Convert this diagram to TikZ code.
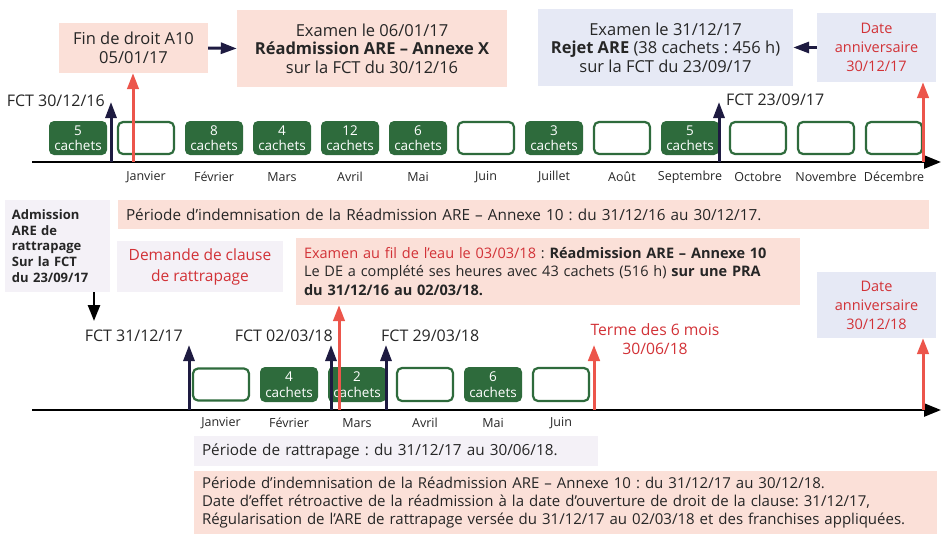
\documentclass[tikz,border=0pt]{standalone}
\usepackage{fontspec}
\setmainfont{Open Sans}
\frenchspacing
\usetikzlibrary{arrows.meta}
\definecolor{grn}{HTML}{2E6B3C}
\definecolor{pinkbg}{HTML}{FBE0D8}
\definecolor{lavbg}{HTML}{E6E9F5}
\definecolor{greybg}{HTML}{F4F1F7}
\definecolor{redtxt}{HTML}{D23237}
\definecolor{redarr}{HTML}{EC554B}
\definecolor{navy}{HTML}{1E1B41}
\definecolor{txt}{HTML}{262626}
\newcommand\fsz[2]{\fontsize{#1pt}{#2pt}\selectfont}
\tikzset{
  full/.style={fill=grn, rounded corners=5pt, minimum width=58pt, minimum height=34pt,
    text=white, font=\fsz{13.5}{15.5}, align=center, inner sep=0pt},
  empt/.style={draw=grn, line width=2.2pt, fill=white, rounded corners=5pt,
    minimum width=56pt, minimum height=32pt, inner sep=0pt},
  month/.style={font=\fsz{12.5}{15}, text=txt, inner sep=0pt},
  fct/.style={font=\fsz{16}{18}, text=txt, inner sep=0pt},
  pinkbox/.style={fill=pinkbg, inner sep=0pt, font=\fsz{16.5}{18.5}, text=txt, align=center},
  lavbox/.style={fill=lavbg, inner sep=0pt, font=\fsz{16.5}{18.5}, text=txt, align=center},
  greybox/.style={fill=greybg, inner sep=0pt, font=\fsz{15}{18.5}, text=txt, align=center},
  axis/.style={line width=2.6pt, -{Triangle[length=17pt,width=13pt]}},
  navarr/.style={draw=navy, line width=3pt, -{Triangle[length=16pt,width=11pt]}},
  redarrow/.style={draw=redarr, line width=3pt, -{Triangle[length=16pt,width=11.5pt]}},
  blkarr/.style={draw=black, line width=2.5pt, -{Triangle[length=16pt,width=12pt]}},
}
\begin{document}
\begin{tikzpicture}[x=1pt,y=-1pt]
\useasboundingbox (0,0) rectangle (942,533);
% ---------------- top boxes
\node[pinkbox, minimum width=149pt, minimum height=50pt] (fin) at (133.5,48) {Fin de droit A10\\05/01/17};
\node[pinkbox, minimum width=270pt, minimum height=77pt] (ex1) at (372,48.5)
  {Examen le 06/01/17\\\textbf{Réadmission ARE – Annexe X}\\sur la FCT du 30/12/16};
\node[lavbox, minimum width=255pt, minimum height=77pt] (ex2) at (665.5,47.5)
  {Examen le 31/12/17\\\textbf{Rejet ARE} (38 cachets : 456 h)\\sur la FCT du 23/09/17};
\node[lavbox, minimum width=119pt, minimum height=69pt, text=redtxt, font=\fsz{14.5}{19}] (da1) at (876.5,47.5)
  {Date\\anniversaire\\30/12/17};
\draw[navarr] (fin.east) -- (ex1.west);
\draw[navarr] (da1.west) -- (ex2.east);
% ---------------- first timeline
\coordinate (a1s) at (32,162);
\coordinate (a1e) at (941,162);
\node[full] (t0) at (78,138) {5\\cachets};
\node[empt] (t1) at (146,138) {};
\node[full] (t2) at (214,138) {8\\cachets};
\node[full] (t3) at (282,138) {4\\cachets};
\node[full] (t4) at (350,138) {12\\cachets};
\node[full] (t5) at (418,138) {6\\cachets};
\node[empt] (t6) at (486,138) {};
\node[full] (t7) at (554,138) {3\\cachets};
\node[empt] (t8) at (622,138) {};
\node[full] (t9) at (690,138) {5\\cachets};
\node[empt] (t10) at (758,138) {};
\node[empt] (t11) at (826,138) {};
\node[empt] (t12) at (894,138) {};
\draw[axis] (a1s) -- (a1e);
\foreach \m [count=\i] in {Janvier,Février,Mars,Avril,Mai,Juin,Juillet,Août,Septembre,Octobre,Novembre,Décembre}
  \node[month] (m1\i) at (78+68*\i,177) {\m};
\node[fct, anchor=east] (fct1) at (105,101) {FCT 30/12/16};
\node[fct, anchor=west] (fct2) at (726,100) {FCT 23/09/17};
\coordinate (p1) at (111,162); \coordinate (p1t) at (111,102);
\coordinate (p2) at (719,162); \coordinate (p2t) at (719,102);
\draw[navarr] (p1) -- (p1t);
\draw[navarr] (p2) -- (p2t);
\coordinate (r1) at (133,162);
\coordinate (r2) at (923,162);
\draw[redarrow] (r1) -- (r1 |- fin.south);
\draw[redarrow] (r2) -- (r2 |- da1.south);
% ---------------- middle boxes
\node[pinkbox, minimum width=811pt, minimum height=29pt, text width=795pt, align=left, font=\fsz{15.3}{18}] (per1) at (523.5,214.5)
  {Période d’indemnisation de la Réadmission ARE – Annexe 10 : du 31/12/16 au 30/12/17.};
\node[greybox, minimum width=105pt, minimum height=92pt, text width=91pt, align=left, font=\fsz{13}{15.75}\bfseries] (adm) at (57.5,246)
  {Admission\\ARE de\\rattrapage\\Sur la FCT\\du 23/09/17};
\node[greybox, minimum width=166pt, minimum height=51pt, text=redtxt, font=\fsz{15.5}{21}] (dem) at (200,266.5)
  {Demande de clause\\de rattrapage};
\node[pinkbox, minimum width=504pt, minimum height=67pt, text width=488pt, align=left, font=\fsz{14.5}{18.5}] (exf) at (548,271.5)
  {{\color{redtxt}Examen au fil de l’eau le 03/03/18} : \textbf{Réadmission ARE – Annexe 10}\\
   Le DE a complété ses heures avec 43 cachets (516 h) \textbf{sur une PRA}\\
   \textbf{du 31/12/16 au 02/03/18.}};
\node[lavbox, minimum width=119pt, minimum height=66pt, text=redtxt, font=\fsz{14.5}{19}] (da2) at (876.5,305)
  {Date\\anniversaire\\30/12/18};
\node[fct, text=redtxt, align=center, font=\fsz{15.7}{19}] (terme) at (655,339.5) {Terme des 6 mois\\30/06/18};
% ---------------- second timeline
\coordinate (a2s) at (32,410);
\coordinate (a2e) at (941,410);
\node[empt] (u1) at (221,384.5) {};
\node[full, minimum height=35pt] (u2) at (289,384.5) {4\\cachets};
\node[full, minimum height=35pt] (u3) at (357,384.5) {2\\cachets};
\node[empt, minimum height=33pt] (u4) at (425,384.5) {};
\node[full, minimum height=35pt] (u5) at (493,384.5) {6\\cachets};
\node[empt, minimum height=33pt] (u6) at (561,384.5) {};
\draw[axis] (a2s) -- (a2e);
\foreach \m [count=\i] in {Janvier,Février,Mars,Avril,Mai,Juin}
  \node[month] (m2\i) at (153+68*\i,423) {\m};
\node[fct, anchor=east] (fct3) at (183,336) {FCT 31/12/17};
\node[fct, anchor=east] (fct4) at (333,336) {FCT 02/03/18};
\node[fct, anchor=west] (fct5) at (381,336) {FCT 29/03/18};
\coordinate (q1) at (189,410); \coordinate (q1t) at (189,345);
\coordinate (q2) at (331,410); \coordinate (q2t) at (331,345);
\coordinate (q3) at (386,410); \coordinate (q3t) at (386,345);
\draw[navarr] (q1) -- (q1t);
\draw[navarr] (q2) -- (q2t);
\draw[navarr] (q3) -- (q3t);
\coordinate (s1) at (339,410);
\coordinate (s2) at (594,410); \coordinate (s2t) at (594,345);
\coordinate (s3) at (923,410);
\draw[redarrow] (s1) -- (s1 |- exf.south);
\draw[redarrow] (s2) -- (s2t);
\draw[redarrow] (s3) -- (s3 |- da2.south);
\coordinate (k1) at (94,321);
\draw[blkarr] (k1 |- adm.south) -- (k1);
% ---------------- bottom boxes
\node[greybox, minimum width=404pt, minimum height=30pt, text width=388pt, align=left, font=\fsz{15.3}{18}] (rat) at (396,451)
  {Période de rattrapage : du 31/12/17 au 30/06/18.};
\node[pinkbox, minimum width=743pt, minimum height=64pt, text width=727pt, align=left, font=\fsz{15}{18}] (per2) at (565.5,503)
  {Période d’indemnisation de la Réadmission ARE – Annexe 10 : du 31/12/17 au 30/12/18.\\
   Date d’effet rétroactive de la réadmission à la date d’ouverture de droit de la clause: 31/12/17,\\
   Régularisation de l’ARE de rattrapage versée du 31/12/17 au 02/03/18 et des franchises appliquées.};
\end{tikzpicture}
\end{document}
